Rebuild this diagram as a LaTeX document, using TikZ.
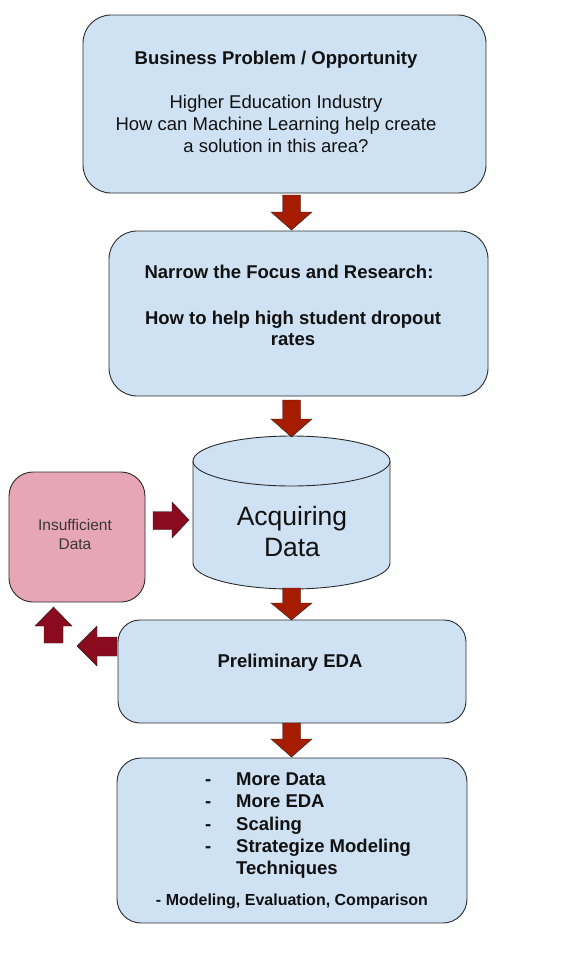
\documentclass[tikz,border=0pt]{standalone}
\usepackage{fontspec}
\setmainfont{Liberation Sans}
\definecolor{boxblue}{HTML}{CFE2F3}
\definecolor{boxpink}{HTML}{E6A6B6}
\definecolor{downred}{HTML}{A61C00}
\definecolor{sidered}{HTML}{8A0A1E}
\definecolor{edge}{HTML}{2B2B2B}
\definecolor{txt}{HTML}{111111}
\tikzset{
  bluebox/.style={draw=edge, line width=0.9pt, fill=boxblue, rounded corners=#1, inner sep=0pt},
  bluebox/.default=28pt,
  pinkbox/.style={draw=edge, line width=0.9pt, fill=boxpink, rounded corners=24pt, inner sep=0pt},
  bigtext/.style={anchor=base, inner sep=0pt, text=txt, font=\fontsize{18.5}{22}\selectfont},
  boldtext/.style={bigtext, font=\fontsize{18.5}{22}\selectfont\bfseries},
  lefttext/.style={boldtext, anchor=base west},
  blockarrow/.style={draw=edge!80!black, line width=0.4pt, fill=#1},
}
\newcommand{\dnarrow}[4]{%
  \path[blockarrow=downred] (#1-9,#2) -- (#1+9,#2) -- (#1+9,#3) -- (#1+20.5,#3) -- (#1,#4) -- (#1-20.5,#3) -- (#1-9,#3) -- cycle;}
\begin{document}
\begin{tikzpicture}[x=1pt, y=-1pt]
\useasboundingbox (0,0) rectangle (576,972);
\fill[white] (0,0) rectangle (576,972);

% Box 1
\node[bluebox, minimum width=403pt, minimum height=178pt] (b1) at (284.5,104) {};
\node[boldtext] (b1t) at (276,64) {Business Problem / Opportunity};
\node[bigtext] (b1a) at (276,108) {Higher Education Industry};
\node[bigtext] (b1b) at (276,130) {How can Machine Learning help create};
\node[bigtext] (b1c) at (276,152) {a solution in this area?};

% Box 2
\node[bluebox, minimum width=379pt, minimum height=165pt] (b2) at (298.5,313.5) {};
\node[boldtext] (b2t) at (289,278) {Narrow the Focus and Research:};
\node[boldtext] (b2a) at (293,324) {How to help high student dropout};
\node[boldtext] (b2b) at (293,345) {rates};

% Cylinder
\path[fill=boxblue, draw=edge, line width=0.9pt] (193,461) -- (193,563)
  arc[start angle=180, end angle=360, x radius=98.5pt, y radius=26pt] -- (390,461);
\path[fill=boxblue, draw=edge, line width=0.9pt] (291.5,461) ellipse[x radius=98.5pt, y radius=25pt];
\node[inner sep=0pt] (cyl) at (291.5,525) {};
\node[anchor=base, inner sep=0pt, text=txt, font=\fontsize{26.5}{31}\selectfont] (cyla) at (292,525) {Acquiring};
\node[anchor=base, inner sep=0pt, text=txt, font=\fontsize{26.5}{31}\selectfont] (cylb) at (292,556) {Data};

% Insufficient data
\node[pinkbox, minimum width=136pt, minimum height=130pt] (ins) at (77,537) {};
\node[anchor=base, inner sep=0pt, text=black!78, font=\fontsize{15.5}{19}\selectfont] (insa) at (75,530) {Insufficient};
\node[anchor=base, inner sep=0pt, text=black!78, font=\fontsize{15.5}{19}\selectfont] (insb) at (75,549) {Data};

% EDA box
\node[bluebox=22pt, minimum width=348pt, minimum height=103pt] (eda) at (292,671.5) {};
\node[boldtext] (edat) at (290,667) {Preliminary EDA};

% Final box
\node[bluebox=24pt, minimum width=350pt, minimum height=165pt] (fin) at (292,840.5) {};
\foreach \yy/\tt [count=\i] in {785/More Data, 807/More EDA, 830/Scaling, 852/Strategize Modeling}{
  \node[lefttext] (fb\i) at (205,\yy) {-};
  \node[lefttext] (ft\i) at (236,\yy) {\tt};
}
\node[lefttext] (ft5) at (236,874) {Techniques};
\node[anchor=base, inner sep=0pt, text=txt, font=\fontsize{16}{19}\selectfont\bfseries] (fl) at (292,905) {- Modeling, Evaluation, Comparison};

% Down arrows
\dnarrow{291.5}{195}{212}{230}
\dnarrow{291.5}{400}{419}{437}
\dnarrow{291.5}{588}{603}{620}
\dnarrow{291.5}{723}{739}{757}

% Right arrow (insufficient -> cylinder)
\path[blockarrow=sidered] (153,511.5) -- (172,511.5) -- (172,502) -- (189,520) -- (172,538) -- (172,529.5) -- (153,529.5) -- cycle;
% Left arrow (EDA -> back)
\path[blockarrow=sidered] (117,637) -- (97,637) -- (97,626) -- (77,646) -- (97,666) -- (97,656) -- (117,656) -- cycle;
% Up arrow (to insufficient)
\path[blockarrow=sidered] (44,643) -- (44,626) -- (35,626) -- (53.5,607) -- (72,626) -- (63,626) -- (63,643) -- cycle;
\end{tikzpicture}
\end{document}
